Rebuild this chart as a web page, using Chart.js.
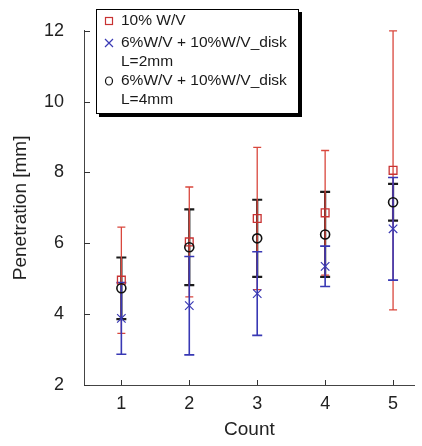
<!DOCTYPE html>
<html>
<head>
<meta charset="utf-8">
<script src="https://cdn.jsdelivr.net/npm/chart.js@4.4.1/dist/chart.umd.min.js"></script>
<style>
  html, body { margin: 0; padding: 0; background: #ffffff; }
  #wrap { width: 422px; height: 446px; position: relative; }
</style>
</head>
<body>
<div id="wrap"><canvas id="c" width="422" height="446"></canvas></div>
<script>
// ---- data ----
const counts = [1, 2, 3, 4, 5];
const xTicks = [1, 2, 3, 4, 5];
const yTicks = [2, 4, 6, 8, 10, 12];

const wv10Mean = [4.96, 6.04, 6.70, 6.86, 8.06];
const wv10Err  = [1.50, 1.55, 2.01, 1.76, 3.94];

const disk2Mean = [3.88, 4.24, 4.58, 5.35, 6.41];
const disk2Err  = [1.01, 1.39, 1.18, 0.57, 1.45];

const disk4Mean = [4.73, 5.89, 6.14, 6.25, 7.16];
const disk4Err  = [0.87, 1.07, 1.09, 1.20, 0.52];

const seriesNames = [
  ['10% W/V'],
  ['6%W/V + 10%W/V_disk', 'L=2mm'],
  ['6%W/V + 10%W/V_disk', 'L=4mm']
];

const xTitle = 'Count';
const yTitle = 'Penetration [mm]';

// ---- styles ----
const RED = '#c83232', RED_BAR = '#d9473d';
const BLUE = '#3a3ab4', BLUE_BAR = '#3838b4';
const BLACK = '#111111', BLACK_BAR = '#1a1a1a';

const toPts = (m) => counts.map((c, i) => ({ x: c, y: m[i] }));

const series = [
  { mean: wv10Mean, err: wv10Err, bar: RED_BAR, width: 1.3, cap: 4, order: 1 },
  { mean: disk2Mean, err: disk2Err, bar: BLUE_BAR, width: 1.6, cap: 5, order: 2 },
  { mean: disk4Mean, err: disk4Err, bar: BLACK_BAR, width: 2.2, cap: 5, order: 0 }
];

const errorBars = {
  id: 'errorBars',
  beforeDatasetsDraw(chart) {
    const ctx = chart.ctx, xs = chart.scales.x, ys = chart.scales.y;
    ctx.save();
    [...series].sort((a, b) => a.order - b.order).forEach(s => {
      ctx.strokeStyle = s.bar;
      ctx.lineWidth = s.width;
      counts.forEach((c, i) => {
        const px = xs.getPixelForValue(c);
        const top = ys.getPixelForValue(s.mean[i] + s.err[i]);
        const bot = ys.getPixelForValue(s.mean[i] - s.err[i]);
        ctx.beginPath();
        ctx.moveTo(px, top); ctx.lineTo(px, bot);
        ctx.moveTo(px - s.cap, top); ctx.lineTo(px + s.cap, top);
        ctx.moveTo(px - s.cap, bot); ctx.lineTo(px + s.cap, bot);
        ctx.stroke();
      });
    });
    ctx.restore();
  }
};

const innerTicks = {
  id: 'innerTicks',
  afterDraw(chart) {
    const ctx = chart.ctx, xs = chart.scales.x, ys = chart.scales.y, a = chart.chartArea;
    ctx.save();
    ctx.strokeStyle = '#333';
    ctx.lineWidth = 1;
    ctx.beginPath();
    yTicks.forEach(v => {
      const py = Math.round(ys.getPixelForValue(v)) + 0.5;
      ctx.moveTo(a.left, py); ctx.lineTo(a.left + 6, py);
    });
    xTicks.forEach(v => {
      const px = Math.round(xs.getPixelForValue(v)) + 0.5;
      ctx.moveTo(px, a.bottom); ctx.lineTo(px, a.bottom - 5);
    });
    ctx.stroke();
    ctx.restore();
  }
};

const boxLegend = {
  id: 'boxLegend',
  afterDraw(chart) {
    const ctx = chart.ctx;
    const bx = 96, by = 9, bw = 202, bh = 104;
    ctx.save();
    ctx.fillStyle = '#000';
    ctx.fillRect(bx + 3, by + 3, bw + 1, bh + 1);
    ctx.fillStyle = '#fff';
    ctx.fillRect(bx, by, bw, bh);
    ctx.strokeStyle = '#000';
    ctx.lineWidth = 1;
    ctx.strokeRect(bx + 0.5, by + 0.5, bw, bh);

    ctx.font = '15.5px "Liberation Sans", Arial, sans-serif';
    ctx.fillStyle = '#1a1a1a';
    ctx.textBaseline = 'middle';
    const mx = 109, tx = 121;
    const rows = [21, 43, 81];
    const lh = 19;
    seriesNames.forEach((lines, k) => {
      const y = rows[k];
      lines.forEach((t, j) => ctx.fillText(t, tx, y + j * lh));
      ctx.lineWidth = 1.2;
      if (k === 0) {
        ctx.strokeStyle = RED;
        ctx.strokeRect(mx - 3.5, y - 3.5, 7, 7);
      } else if (k === 1) {
        ctx.strokeStyle = BLUE;
        ctx.beginPath();
        ctx.moveTo(mx - 4, y - 4); ctx.lineTo(mx + 4, y + 4);
        ctx.moveTo(mx - 4, y + 4); ctx.lineTo(mx + 4, y - 4);
        ctx.stroke();
      } else {
        ctx.strokeStyle = BLACK;
        ctx.beginPath();
        ctx.ellipse(mx, y, 3.5, 4, 0, 0, Math.PI * 2);
        ctx.stroke();
      }
    });
    ctx.restore();
  }
};

const tickFont = { family: '"Liberation Sans", Arial, sans-serif', size: 18 };
const titleFont = { family: '"Liberation Sans", Arial, sans-serif', size: 19 };

new Chart(document.getElementById('c'), {
  type: 'scatter',
  data: {
    datasets: [
      { label: seriesNames[0].join(' '), data: toPts(wv10Mean), pointStyle: 'rect', radius: 5.5,
        borderColor: RED, backgroundColor: 'rgba(0,0,0,0)', borderWidth: 1.3, order: 2 },
      { label: seriesNames[2].join(' '), data: toPts(disk4Mean), pointStyle: 'circle', radius: 4.5,
        borderColor: BLACK, backgroundColor: 'rgba(0,0,0,0)', borderWidth: 1.6, order: 1 },
      { label: seriesNames[1].join(' '), data: toPts(disk2Mean), pointStyle: 'crossRot', radius: 6,
        borderColor: BLUE, backgroundColor: BLUE, borderWidth: 1.2, order: 0 }
    ]
  },
  options: {
    responsive: false,
    animation: false,
    devicePixelRatio: 1,
    layout: { padding: { top: 30, right: 2, left: 0, bottom: 0 } },
    plugins: { legend: { display: false }, tooltip: { enabled: false } },
    scales: {
      x: {
        type: 'linear', min: 0.45, max: 5.32,
        afterBuildTicks: s => { s.ticks = xTicks.map(v => ({ value: v })); },
        afterCalculateLabelRotation: s => { s.labelRotation = 0; },
        afterFit: s => { s.height = 61; },
        grid: { display: true, drawOnChartArea: false, drawTicks: false },
        border: { display: true, color: '#444', width: 1 },
        ticks: { font: tickFont, color: '#222', padding: 8, minRotation: 0, maxRotation: 0, autoSkip: false },
        title: { display: true, text: xTitle, font: titleFont, color: '#222', padding: { top: 0, bottom: 5 } }
      },
      y: {
        type: 'linear', min: 2, max: 12,
        afterBuildTicks: s => { s.ticks = yTicks.map(v => ({ value: v })); },
        afterFit: s => { s.width = 84; },
        grid: { display: true, drawOnChartArea: false, drawTicks: false },
        border: { display: true, color: '#444', width: 1 },
        ticks: { font: tickFont, color: '#222', padding: 20 },
        title: { display: true, text: yTitle, font: titleFont, color: '#222', padding: { top: 9, bottom: 0 } }
      }
    }
  },
  plugins: [errorBars, innerTicks, boxLegend]
});
</script>
</body>
</html>
